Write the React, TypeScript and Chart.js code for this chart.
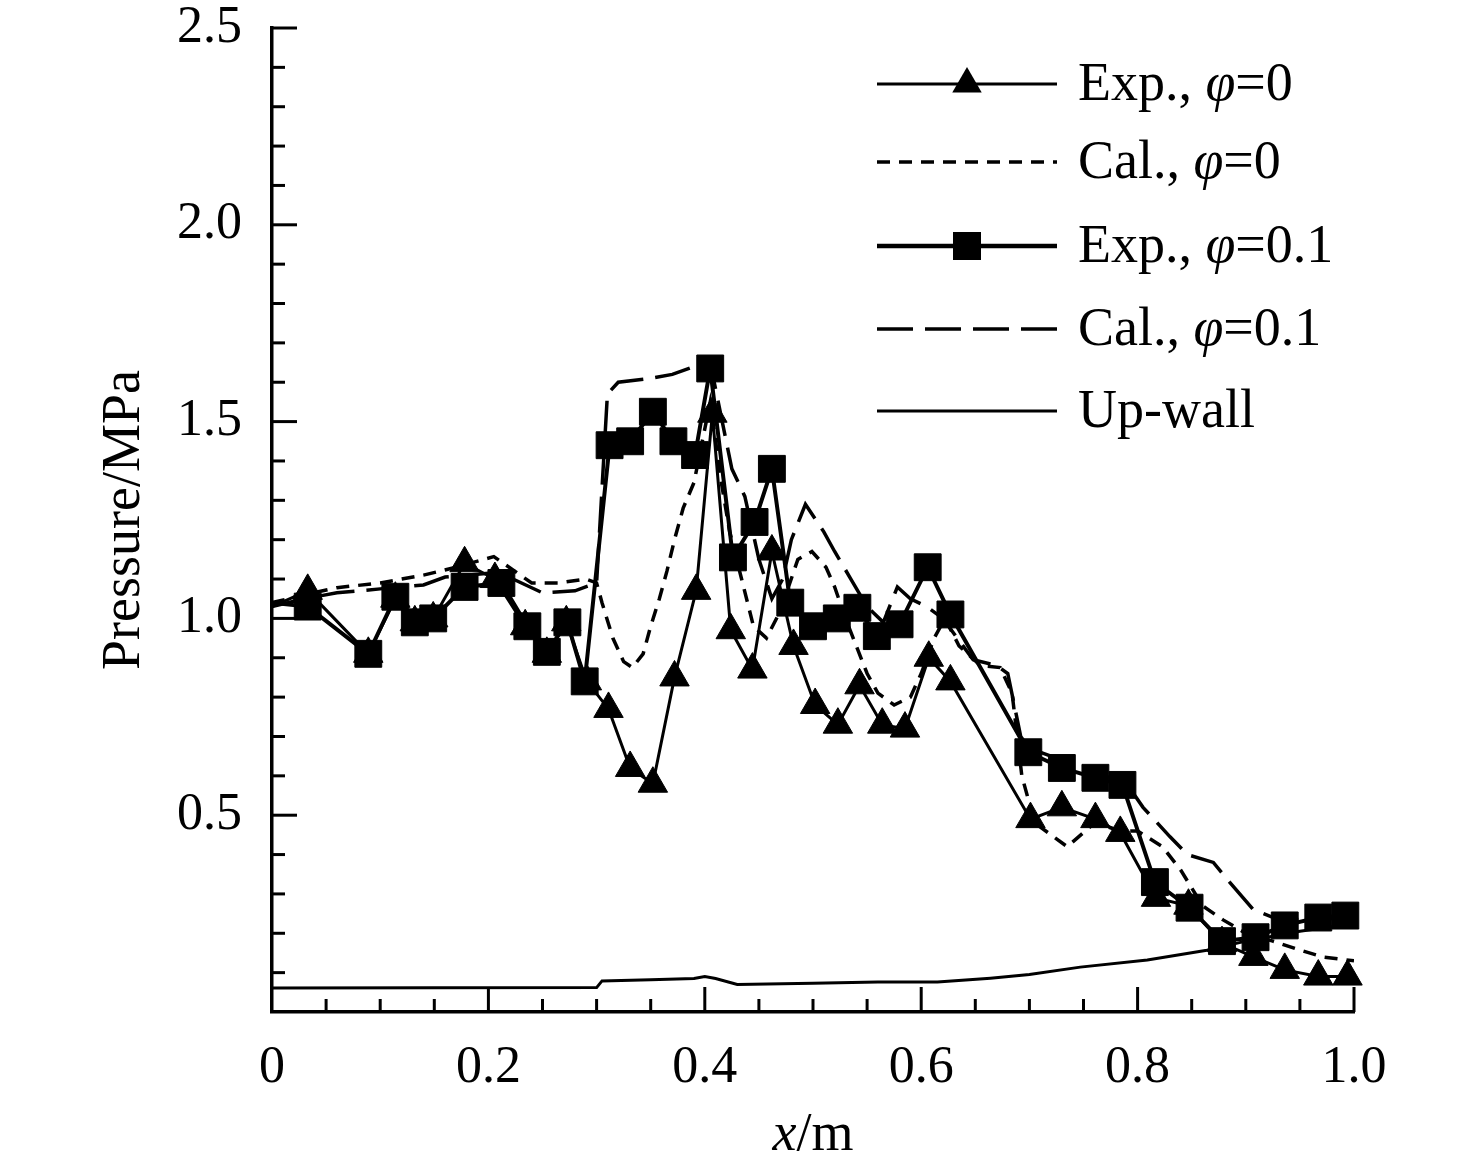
import { useEffect, useRef } from 'react';
import { Chart, registerables } from 'chart.js';

Chart.register(...registerables);

const FONT = '"Liberation Serif", "Times New Roman", Times, serif';

// Exp., phi=0 (solid line, triangles)
const expPhi0X = [0, 0.033, 0.089, 0.114, 0.132, 0.149, 0.178, 0.206, 0.234, 0.254, 0.272, 0.291, 0.311, 0.331, 0.352, 0.372, 0.392, 0.407, 0.424, 0.444, 0.462, 0.482, 0.502, 0.523, 0.543, 0.564, 0.585, 0.607, 0.627, 0.701, 0.730, 0.761, 0.784, 0.817, 0.847, 0.878, 0.907, 0.936, 0.967, 0.994];
const expPhi0Y = [1.03, 1.07, 0.91, 1.05, 0.99, 1.00, 1.14, 1.10, 0.98, 0.91, 0.99, 0.84, 0.77, 0.62, 0.58, 0.85, 1.07, 1.52, 0.97, 0.87, 1.17, 0.93, 0.78, 0.73, 0.83, 0.73, 0.72, 0.90, 0.84, 0.49, 0.52, 0.49, 0.455, 0.29, 0.27, 0.175, 0.14, 0.107, 0.09, 0.09];

// Cal., phi=0 (short dashes)
const calPhi0X = [0, 0.03, 0.06, 0.1, 0.14, 0.17, 0.205, 0.24, 0.265, 0.29, 0.30, 0.305, 0.315, 0.325, 0.333, 0.343, 0.35, 0.358, 0.365, 0.372, 0.38, 0.39, 0.405, 0.415, 0.423, 0.434, 0.445, 0.457, 0.47, 0.486, 0.499, 0.512, 0.52, 0.53, 0.54, 0.55, 0.56, 0.575, 0.59, 0.60, 0.612, 0.622, 0.635, 0.655, 0.673, 0.684, 0.693, 0.705, 0.72, 0.735, 0.76, 0.785, 0.80, 0.823, 0.84, 0.86, 0.879, 0.90, 0.925, 0.947, 0.971, 1.0];
const calPhi0Y = [1.04, 1.06, 1.078, 1.09, 1.11, 1.13, 1.157, 1.09, 1.09, 1.10, 1.09, 1.04, 0.95, 0.89, 0.875, 0.91, 0.98, 1.05, 1.12, 1.20, 1.28, 1.345, 1.55, 1.35, 1.22, 1.10, 0.98, 0.95, 1.02, 1.15, 1.17, 1.13, 1.08, 1.00, 0.93, 0.86, 0.81, 0.78, 0.80, 0.86, 0.95, 1.00, 0.93, 0.88, 0.875, 0.81, 0.60, 0.48, 0.45, 0.42, 0.48, 0.46, 0.46, 0.42, 0.36, 0.27, 0.234, 0.20, 0.18, 0.16, 0.14, 0.13];

// Exp., phi=0.1 (thick solid line, squares)
const expPhi01X = [0, 0.033, 0.089, 0.114, 0.132, 0.149, 0.178, 0.212, 0.236, 0.254, 0.273, 0.289, 0.312, 0.331, 0.352, 0.371, 0.391, 0.405, 0.426, 0.446, 0.462, 0.479, 0.500, 0.522, 0.541, 0.559, 0.580, 0.606, 0.627, 0.699, 0.730, 0.761, 0.786, 0.816, 0.848, 0.878, 0.909, 0.936, 0.967, 0.992];
const expPhi01Y = [1.04, 1.03, 0.91, 1.055, 0.99, 1.00, 1.08, 1.09, 0.98, 0.915, 0.99, 0.84, 1.44, 1.45, 1.525, 1.45, 1.415, 1.635, 1.155, 1.245, 1.38, 1.04, 0.98, 1.00, 1.027, 0.955, 0.985, 1.13, 1.01, 0.66, 0.62, 0.595, 0.577, 0.33, 0.265, 0.18, 0.19, 0.22, 0.24, 0.245];

// Cal., phi=0.1 (long dashes)
const calPhi01X = [0, 0.03, 0.06, 0.1, 0.14, 0.16, 0.2, 0.215, 0.25, 0.28, 0.30, 0.31, 0.32, 0.35, 0.37, 0.39, 0.405, 0.425, 0.437, 0.45, 0.462, 0.472, 0.48, 0.493, 0.51, 0.52, 0.535, 0.55, 0.565, 0.578, 0.59, 0.605, 0.62, 0.648, 0.67, 0.68, 0.686, 0.692, 0.70, 0.73, 0.76, 0.79, 0.805, 0.83, 0.846, 0.87, 0.885, 0.907, 0.93, 0.96, 1.0];
const calPhi01Y = [1.03, 1.05, 1.065, 1.075, 1.085, 1.105, 1.115, 1.11, 1.065, 1.07, 1.09, 1.57, 1.60, 1.61, 1.62, 1.64, 1.65, 1.38, 1.31, 1.15, 1.05, 1.10, 1.20, 1.29, 1.22, 1.17, 1.10, 1.03, 0.99, 1.08, 1.05, 1.03, 1.0, 0.895, 0.88, 0.86, 0.78, 0.70, 0.67, 0.64, 0.61, 0.58, 0.52, 0.445, 0.40, 0.38, 0.33, 0.26, 0.235, 0.235, 0.24];

// Up-wall (thin solid line)
const upWallX = [0, 0.30, 0.305, 0.35, 0.39, 0.40, 0.41, 0.43, 0.50, 0.56, 0.615, 0.664, 0.70, 0.747, 0.809, 0.864, 0.9, 0.95, 1.0];
const upWallY = [0.061, 0.062, 0.079, 0.082, 0.085, 0.09, 0.085, 0.07, 0.073, 0.076, 0.076, 0.086, 0.095, 0.114, 0.132, 0.157, 0.18, 0.205, 0.225];

const toPoints = (xs: number[], ys: number[]) => xs.map((x, i) => ({ x, y: ys[i] }));

// no marker on the first (x = 0) point of the experimental curves
const markerRadius = (xs: number[], r: number) => xs.map((x) => (x === 0 ? 0 : r));

type LegendRow = {
  prefix: string;
  suffix: string;
  width: number;
  dash: number[];
  marker: 'triangle' | 'rect' | null;
};

const legendRows: LegendRow[] = [
  { prefix: 'Exp., ', suffix: '=0', width: 3, dash: [], marker: 'triangle' },
  { prefix: 'Cal., ', suffix: '=0', width: 3.5, dash: [13, 9], marker: null },
  { prefix: 'Exp., ', suffix: '=0.1', width: 4.5, dash: [], marker: 'rect' },
  { prefix: 'Cal., ', suffix: '=0.1', width: 3.5, dash: [36, 12], marker: null },
  { prefix: 'Up-wall', suffix: '', width: 3, dash: [], marker: null },
];

function drawParts(ctx: CanvasRenderingContext2D, parts: [string, boolean][], x: number, y: number, size: number) {
  let cx = x;
  for (const [text, italic] of parts) {
    ctx.font = `${italic ? 'italic ' : ''}${size}px ${FONT}`;
    ctx.fillText(text, cx, y);
    cx += ctx.measureText(text).width;
  }
}

function partsWidth(ctx: CanvasRenderingContext2D, parts: [string, boolean][], size: number) {
  let w = 0;
  for (const [text, italic] of parts) {
    ctx.font = `${italic ? 'italic ' : ''}${size}px ${FONT}`;
    w += ctx.measureText(text).width;
  }
  return w;
}

const decorPlugin = {
  id: 'decor',
  afterDraw(chart: Chart) {
    const { ctx, chartArea } = chart;
    const xScale = chart.scales.x;
    const yScale = chart.scales.y;
    ctx.save();
    ctx.strokeStyle = '#000';
    ctx.fillStyle = '#000';
    ctx.lineWidth = 3;
    ctx.setLineDash([]);

    // inward ticks on the y axis (0.1 step, long ones every 0.5)
    for (let k = 1; k <= 25; k++) {
      const py = yScale.getPixelForValue(k / 10);
      const len = k % 5 === 0 ? 25 : 13;
      ctx.beginPath();
      ctx.moveTo(chartArea.left, py);
      ctx.lineTo(chartArea.left + len, py);
      ctx.stroke();
    }
    // inward ticks on the x axis (0.05 step, long ones every 0.2)
    for (let k = 1; k <= 20; k++) {
      const px = xScale.getPixelForValue(k * 0.05);
      const len = k % 4 === 0 ? 25 : 13;
      ctx.beginPath();
      ctx.moveTo(px, chartArea.bottom);
      ctx.lineTo(px, chartArea.bottom - len);
      ctx.stroke();
    }

    // axis titles
    ctx.textBaseline = 'alphabetic';
    const xTitle: [string, boolean][] = [['x', true], ['/m', false]];
    const xw = partsWidth(ctx, xTitle, 54);
    drawParts(ctx, xTitle, (chartArea.left + chartArea.right) / 2 - xw / 2, 1150, 54);

    ctx.save();
    ctx.translate(125, (chartArea.top + chartArea.bottom) / 2);
    ctx.rotate(-Math.PI / 2);
    ctx.font = `54px ${FONT}`;
    ctx.textAlign = 'center';
    ctx.textBaseline = 'middle';
    ctx.fillText('Pressure/MPa', 0, 0);
    ctx.restore();

    // legend
    const rowY = [84, 162, 246, 329, 411];
    legendRows.forEach((row, i) => {
      const y = rowY[i];
      ctx.lineWidth = row.width;
      ctx.setLineDash(row.dash);
      ctx.beginPath();
      ctx.moveTo(877, y);
      ctx.lineTo(1057, y);
      ctx.stroke();
      ctx.setLineDash([]);
      if (row.marker === 'triangle') {
        const r = 17;
        ctx.beginPath();
        ctx.moveTo(967, y - r);
        ctx.lineTo(967 + r * Math.sin(Math.PI * 2 / 3), y + r / 2);
        ctx.lineTo(967 - r * Math.sin(Math.PI * 2 / 3), y + r / 2);
        ctx.closePath();
        ctx.fill();
      } else if (row.marker === 'rect') {
        ctx.fillRect(967 - 14, y - 14, 28, 28);
      }
      const parts: [string, boolean][] = row.suffix
        ? [[row.prefix, false], ['\u03c6', true], [row.suffix, false]]
        : [[row.prefix, false]];
      ctx.textBaseline = 'alphabetic';
      drawParts(ctx, parts, 1078, y + 16, 54);
    });
    ctx.restore();
  },
};

export default function App() {
  const canvasRef = useRef<HTMLCanvasElement>(null);
  const chartRef = useRef<Chart | null>(null);

  useEffect(() => {
    if (!canvasRef.current) return;
    if (chartRef.current) chartRef.current.destroy();

    chartRef.current = new Chart(canvasRef.current, {
      type: 'line',
      data: {
        datasets: [
          {
            label: 'Exp., φ=0.1',
            data: toPoints(expPhi01X, expPhi01Y),
            borderColor: '#000',
            borderWidth: 4,
            pointStyle: 'rect',
            pointRadius: markerRadius(expPhi01X, 19),
            pointBackgroundColor: '#000',
            pointBorderColor: '#000',
            pointBorderWidth: 1,
            tension: 0,
            clip: false,
          },
          {
            label: 'Exp., φ=0',
            data: toPoints(expPhi0X, expPhi0Y),
            borderColor: '#000',
            borderWidth: 3,
            pointStyle: 'triangle',
            pointRadius: markerRadius(expPhi0X, 17),
            pointBackgroundColor: '#000',
            pointBorderColor: '#000',
            pointBorderWidth: 1,
            tension: 0,
            clip: false,
          },
          {
            label: 'Cal., φ=0',
            data: toPoints(calPhi0X, calPhi0Y),
            borderColor: '#000',
            borderWidth: 3.5,
            borderDash: [13, 9],
            pointRadius: 0,
            tension: 0,
          },
          {
            label: 'Cal., φ=0.1',
            data: toPoints(calPhi01X, calPhi01Y),
            borderColor: '#000',
            borderWidth: 3.5,
            borderDash: [36, 12],
            pointRadius: 0,
            tension: 0,
          },
          {
            label: 'Up-wall',
            data: toPoints(upWallX, upWallY),
            borderColor: '#000',
            borderWidth: 3,
            pointRadius: 0,
            tension: 0,
          },
        ],
      },
      options: {
        responsive: false,
        animation: false,
        devicePixelRatio: 1,
        layout: { padding: { left: 0, top: 28, right: 122, bottom: 0 } },
        plugins: {
          legend: { display: false },
          tooltip: { enabled: false },
        },
        scales: {
          x: {
            type: 'linear',
            min: 0,
            max: 1,
            grid: { display: false },
            border: { display: true, color: '#000', width: 3.5 },
            ticks: {
              stepSize: 0.2,
              autoSkip: false,
              maxRotation: 0,
              padding: 22,
              color: '#000',
              font: { family: FONT, size: 52, lineHeight: 1 },
              callback: (v) => (Number(v) === 0 ? '0' : Number(v).toFixed(1)),
            },
            afterFit: (scale) => {
              scale.height = 1168 - 1012;
            },
          },
          y: {
            type: 'linear',
            min: 0,
            max: 2.5,
            grid: { display: false },
            border: { display: true, color: '#000', width: 3.5 },
            ticks: {
              stepSize: 0.5,
              padding: 22,
              color: '#000',
              font: { family: FONT, size: 52, lineHeight: 0.2 },
              callback: (v) => (Number(v) === 0 ? '' : Number(v).toFixed(1)),
            },
            afterFit: (scale) => {
              scale.width = 272;
              scale.paddingTop = 0;
              scale.paddingBottom = 0;
            },
          },
        },
      },
      plugins: [decorPlugin],
    });

    return () => {
      if (chartRef.current) {
        chartRef.current.destroy();
        chartRef.current = null;
      }
    };
  }, []);

  return (
    <div style={{ position: 'absolute', left: 0, top: 0, width: 1476, height: 1168, background: '#fff' }}>
      <canvas ref={canvasRef} width={1476} height={1168}></canvas>
    </div>
  );
}
